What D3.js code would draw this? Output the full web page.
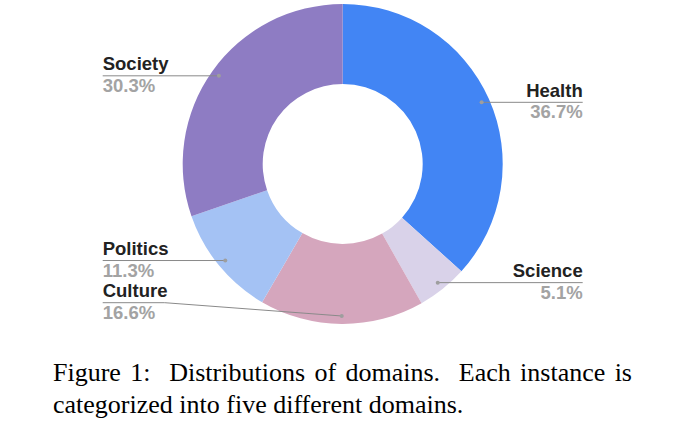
<!DOCTYPE html>
<html>
<head>
<meta charset="utf-8">
<script src="https://cdn.jsdelivr.net/npm/d3@7"></script>
<style>
  html, body { margin: 0; padding: 0; background: #fff; }
  svg { display: block; }
</style>
</head>
<body>
<div id="chart"></div>
<script>
// data
const domains = ['Health', 'Science', 'Culture', 'Politics', 'Society'];
const shares = [36.7, 5.1, 16.6, 11.3, 30.3];
const sliceColors = ['#4285f4', '#d9d2e9', '#d5a6bd', '#a4c2f4', '#8e7cc3'];
const captionLines = [
    'Figure 1:  Distributions of domains.  Each instance is',
    'categorized into five different domains.'
];

const width = 675;
const height = 431;
const cx = 342.7;
const cy = 164;
const outerR = 160;
const innerR = 80;
const dotR = 152;
const labelOffset = 240;
const labelBottom = 302.7;

const svg = d3.select('#chart').append('svg')
    .attr('width', width)
    .attr('height', height);

const rows = domains.map((d, i) => ({ name: d, value: shares[i], color: sliceColors[i] }));

const pie = d3.pie().value(d => d.value).sort(null);
const arc = d3.arc().innerRadius(innerR).outerRadius(outerR);
const dotArc = d3.arc().innerRadius(dotR).outerRadius(dotR);

const $g = svg.append('g').attr('transform', `translate(${cx}, ${cy})`);
const arcs = pie(rows);

$g.selectAll('.slice')
    .data(arcs)
    .enter()
    .append('path')
    .attr('class', 'slice')
    .attr('d', arc)
    .attr('fill', d => d.data.color);

// labels
const $labels = $g.selectAll('.label')
    .data(arcs)
    .enter()
    .append('g')
    .attr('class', 'label');

$labels.each(function(d) {
    const [px, py] = dotArc.centroid(d);
    const mid = (d.startAngle + d.endAngle) / 2;
    const right = mid < Math.PI;
    // keep label inside chart area
    const ly = Math.min(py, labelBottom - cy);
    const lx = right ? labelOffset : -labelOffset;
    const $l = d3.select(this);
    const pts = ly === py
        ? [[lx, ly], [px, py]]
        : [[lx, ly], [lx + (right ? -62 : 62), ly], [px, py]];
    $l.append('path')
        .attr('d', d3.line()(pts))
        .attr('fill', 'none')
        .attr('stroke', '#8a8a8a')
        .attr('stroke-width', 1);
    $l.append('circle')
        .attr('cx', px)
        .attr('cy', py)
        .attr('r', 2)
        .attr('fill', '#9e9e9e');
    $l.append('text')
        .attr('x', lx)
        .attr('y', ly - 5.5)
        .attr('text-anchor', right ? 'end' : 'start')
        .style('font-family', '"Liberation Sans", Arial, sans-serif')
        .style('font-weight', 'bold')
        .style('font-size', '18.5px')
        .attr('fill', '#222')
        .text(d.data.name);
    $l.append('text')
        .attr('x', lx)
        .attr('y', ly + 16)
        .attr('text-anchor', right ? 'end' : 'start')
        .style('font-family', '"Liberation Sans", Arial, sans-serif')
        .style('font-weight', 'bold')
        .style('font-size', '18.5px')
        .attr('fill', '#a3a3a3')
        .text(d3.format('.1f')(d.data.value) + '%');
});

// caption
const capX = 53;
const capRight = 632;
const $cap = svg.append('g').attr('class', 'caption');
captionLines.forEach((line, i) => {
    const t = $cap.append('text')
        .attr('x', capX)
        .attr('y', 380.7 + i * 32)
        .style('font-family', '"Liberation Serif", "Times New Roman", serif')
        .style('font-size', '26px')
        .style('white-space', 'pre')
        .attr('fill', '#000')
        .text(line);
    if (i === 0) {
        // justify first line
        const w = t.node().getComputedTextLength();
        const gaps = line.split(' ').length - 1;
        t.style('word-spacing', ((capRight - capX - w) / gaps) + 'px');
    }
});
</script>
</body>
</html>
